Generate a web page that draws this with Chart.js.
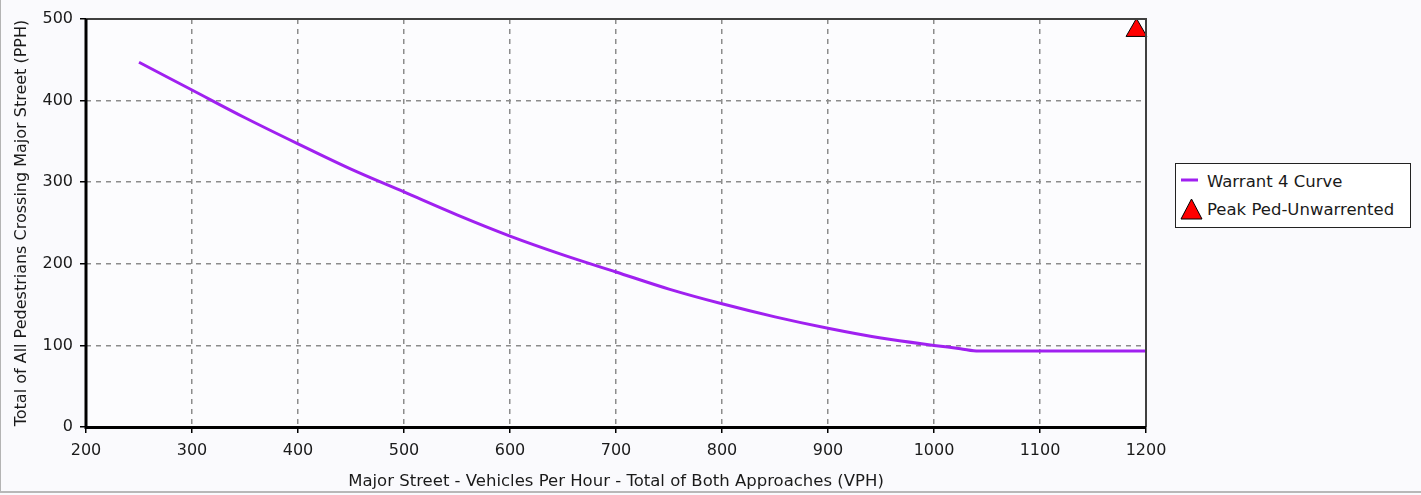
<!DOCTYPE html>
<html>
<head>
<meta charset="utf-8">
<script src="https://cdn.jsdelivr.net/npm/chart.js@4"></script>
<style>
  html, body { margin: 0; padding: 0; background: #fafafd; }
  #wrap { position: relative; width: 1421px; height: 495px; background: #fafafd; overflow: hidden; }
  #frameL { position: absolute; left: 0; top: 0; width: 1px; height: 492px; background: #b4b4b4; }
  #frameB { position: absolute; left: 0; top: 491px; width: 1421px; height: 2px; background: #b8b8b8; }
  #chart { position: absolute; left: 0; top: 0; }
  #legend { position: absolute; left: 1175px; top: 163px; width: 234px; height: 63px;
            border: 1.5px solid #222; background: #ffffff; font-family: "DejaVu Sans", sans-serif;
            font-size: 16.5px; color: #1a1a1a; }
  .item { position: absolute; left: 4px; height: 22px; line-height: 22px; white-space: nowrap; }
  .item span { position: absolute; left: 27px; }
</style>
</head>
<body>
<div id="wrap">
  <canvas id="chart" width="1421" height="495"></canvas>
  <div id="frameL"></div>
  <div id="frameB"></div>
  <div id="legend">
    <div class="item" style="top:7px;">
      <svg width="22" height="22" style="position:absolute;left:0;top:0"><line x1="1" y1="9" x2="18" y2="9" stroke="#a020f0" stroke-width="3"/></svg>
      <span id="lg0"></span>
    </div>
    <div class="item" style="top:35px;">
      <svg width="24" height="24" style="position:absolute;left:0;top:-1px"><polygon points="11.5,1 22,21 1,21" fill="#ff0000" stroke="#000" stroke-width="1"/></svg>
      <span id="lg1"></span>
    </div>
  </div>
</div>
<script>
// ---- data ----
const curveVPH = [250, 300, 350, 400, 450, 500, 550, 600, 650, 700, 750, 800, 850, 900, 950, 1000, 1025, 1042, 1200];
const curvePPH = [447, 413, 379, 347, 316, 288, 260, 234, 211, 190, 169, 151, 135, 121, 109, 100, 96, 93, 93];
const peakVPH = [1191];
const peakPPH = [486];
const seriesNames = ["Warrant 4 Curve", "Peak Ped-Unwarrented"];
const xTicks = [200, 300, 400, 500, 600, 700, 800, 900, 1000, 1100, 1200];
const yTicks = [0, 100, 200, 300, 400, 500];
const xTitle = "Major Street - Vehicles Per Hour - Total of Both Approaches (VPH)";
const yTitle = "Total of All Pedestrians Crossing Major Street (PPH)";

document.getElementById('lg0').textContent = seriesNames[0];
document.getElementById('lg1').textContent = seriesNames[1];

const FONT = "'DejaVu Sans', sans-serif";

const framePlugin = {
  id: 'frame',
  beforeDraw(chart) {
    const a = chart.chartArea, c = chart.ctx;
    c.save();
    c.fillStyle = '#fcfcfe';
    c.fillRect(a.left, a.top, a.right - a.left, a.bottom - a.top);
    c.restore();
  },
  afterDatasetsDraw(chart) {
    const a = chart.chartArea, c = chart.ctx;
    c.save();
    c.strokeStyle = '#404040';
    c.lineWidth = 2;
    c.beginPath();
    c.moveTo(a.left, a.top); c.lineTo(a.right, a.top); c.lineTo(a.right, a.bottom);
    c.stroke();
    c.strokeStyle = '#000';
    c.lineWidth = 3;
    c.beginPath();
    c.moveTo(a.left, a.top); c.lineTo(a.left, a.bottom + 0.5); c.lineTo(a.right, a.bottom + 0.5);
    c.stroke();
    c.restore();
  }
};

new Chart(document.getElementById('chart'), {
  type: 'scatter',
  data: {
    datasets: [
      {
        label: seriesNames[0],
        data: curveVPH.map((x, i) => ({ x, y: curvePPH[i] })),
        showLine: true,
        borderColor: '#a020f0',
        backgroundColor: '#a020f0',
        borderWidth: 3,
        pointRadius: 0,
        pointHoverRadius: 0,
        cubicInterpolationMode: 'monotone'
      },
      {
        label: seriesNames[1],
        data: peakVPH.map((x, i) => ({ x, y: peakPPH[i] })),
        showLine: false,
        pointStyle: 'triangle',
        pointRadius: 12,
        backgroundColor: '#ff0000',
        borderColor: '#000000',
        borderWidth: 1,
        clip: false
      }
    ]
  },
  options: {
    responsive: false,
    animation: false,
    events: [],
    layout: { padding: { left: 0, top: 19, right: 275, bottom: 0 } },
    plugins: { legend: { display: false }, tooltip: { enabled: false } },
    scales: {
      x: {
        type: 'linear',
        min: 200, max: 1200,
        afterBuildTicks(s) { s.ticks = xTicks.map(v => ({ value: v })); },
        afterFit(s) { s.height = 68; },
        border: { display: false, dash: [5, 5] },
        grid: {
          color: '#8c8c8c', lineWidth: 1.5, tickLength: 6,
          tickColor: '#000', tickWidth: 1.5, tickBorderDash: [0, 0],
          drawTicks: true
        },
        ticks: { color: '#1a1a1a', font: { family: FONT, size: 16 }, padding: 8, maxRotation: 0, autoSkip: false,
                 callback: v => String(v) },
        title: { display: true, text: xTitle, color: '#1a1a1a', font: { family: FONT, size: 16.5 }, padding: { top: 4, bottom: 3 } }
      },
      y: {
        type: 'linear',
        min: 0, max: 500,
        afterBuildTicks(s) { s.ticks = yTicks.map(v => ({ value: v })); },
        afterFit(s) { s.width = 86; },
        border: { display: false, dash: [5, 5] },
        grid: {
          color: '#8c8c8c', lineWidth: 1.5, tickLength: 6,
          tickColor: '#000', tickWidth: 1.5, tickBorderDash: [0, 0],
          drawTicks: true
        },
        ticks: { color: '#1a1a1a', font: { family: FONT, size: 16 }, padding: 7, autoSkip: false,
                 callback: v => String(v) },
        title: { display: true, text: yTitle, color: '#1a1a1a', font: { family: FONT, size: 16 }, padding: { top: 12, bottom: 0 } }
      }
    }
  },
  plugins: [framePlugin]
});
</script>
</body>
</html>
